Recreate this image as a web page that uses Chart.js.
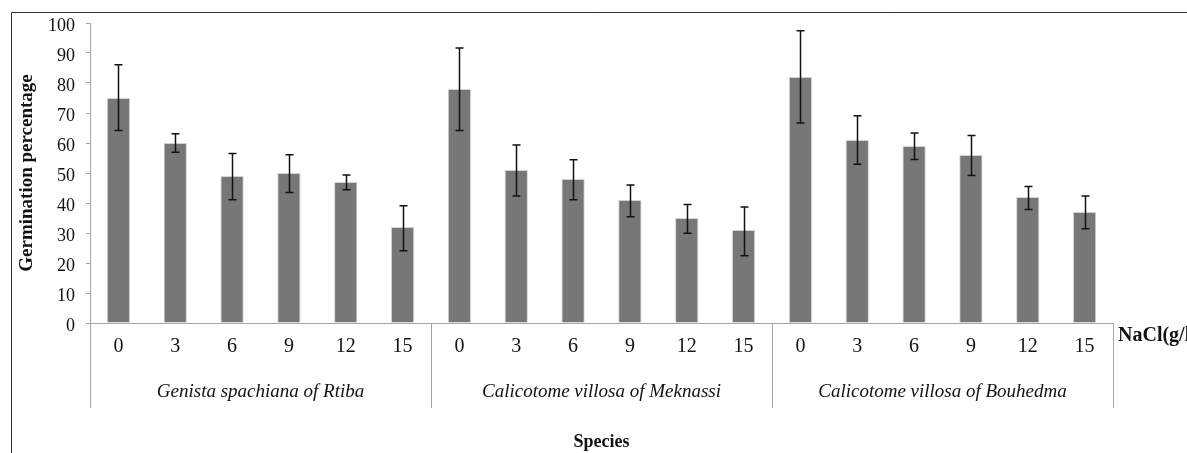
<!DOCTYPE html>
<html>
<head>
<meta charset="utf-8">
<script src="https://cdn.jsdelivr.net/npm/chart.js@4/dist/chart.umd.min.js"></script>
<style>
  html, body { margin: 0; padding: 0; background: #fff; }
  #wrap { width: 1187px; height: 453px; }
</style>
</head>
<body>
<div id="wrap"><canvas id="c" width="1187" height="453"></canvas></div>
<script>
const species = ["Genista spachiana of Rtiba", "Calicotome villosa of Meknassi", "Calicotome villosa of Bouhedma"];
const naclLevels = ["0", "3", "6", "9", "12", "15"];
const germination = [75, 60, 49, 50, 47, 32,  78, 51, 48, 41, 35, 31,  82, 61, 59, 56, 42, 37];
const errLow  = [64.2, 56.9, 41.1, 43.5, 44.4, 24.1,  64.2, 42.3, 41.1, 35.4, 29.9, 22.4,  66.7, 52.9, 54.5, 49.2, 37.8, 31.4];
const errHigh = [86.1, 63.1, 56.5, 56.1, 49.3, 39.1,  91.7, 59.3, 54.4, 46.0, 39.5, 38.7,  97.4, 69.1, 63.3, 62.5, 45.5, 42.3];
const yTitle = "Germination percentage";
const xTitle = "Species";
const unitLabel = "NaCl(g/l)";

const labels = [];
species.forEach(() => naclLevels.forEach(l => labels.push(l)));

const FONT = "'Liberation Serif', 'Times New Roman', serif";

const decor = {
  id: 'decor',
  beforeDraw(chart) {
    const ctx = chart.ctx;
    ctx.save();
    ctx.fillStyle = '#fff';
    ctx.fillRect(0, 0, chart.width, chart.height);
    ctx.strokeStyle = '#333';
    ctx.lineWidth = 1;
    ctx.beginPath();
    ctx.moveTo(11.5, chart.height);
    ctx.lineTo(11.5, 12.5);
    ctx.lineTo(chart.width, 12.5);
    ctx.stroke();
    ctx.restore();
  },
  afterDatasetsDraw(chart) {
    const ctx = chart.ctx;
    const ys = chart.scales.y;
    const meta = chart.getDatasetMeta(0);
    ctx.save();
    ctx.strokeStyle = '#111';
    ctx.lineWidth = 1.5;
    meta.data.forEach((bar, i) => {
      const x = Math.round(bar.x) + 0.5;
      const yh = ys.getPixelForValue(errHigh[i]);
      const yl = ys.getPixelForValue(errLow[i]);
      ctx.beginPath();
      ctx.moveTo(x, yh); ctx.lineTo(x, yl);
      ctx.moveTo(x - 4, yh); ctx.lineTo(x + 4, yh);
      ctx.moveTo(x - 4, yl); ctx.lineTo(x + 4, yl);
      ctx.stroke();
    });
    ctx.restore();
  },
  afterDraw(chart) {
    const ctx = chart.ctx;
    const xs = chart.scales.x;
    const area = chart.chartArea;
    const n = naclLevels.length;
    ctx.save();
    ctx.strokeStyle = '#a6a6a6';
    ctx.lineWidth = 1;
    for (let g = 0; g <= species.length; g++) {
      const px = Math.round(xs.getPixelForValue(g * n - 0.5)) + 0.5;
      ctx.beginPath();
      ctx.moveTo(px, area.bottom);
      ctx.lineTo(px, 408);
      ctx.stroke();
    }
    ctx.fillStyle = '#111';
    ctx.textAlign = 'center';
    ctx.textBaseline = 'middle';
    ctx.font = "italic 19px " + FONT;
    species.forEach((s, g) => {
      ctx.fillText(s, xs.getPixelForValue(g * n + (n - 1) / 2), 392);
    });
    ctx.font = "bold 18px " + FONT;
    ctx.fillText(xTitle, (area.left + area.right) / 2, 442);
    ctx.textAlign = 'left';
    ctx.font = "bold 20px " + FONT;
    ctx.fillText(unitLabel, 1118, 336);
    ctx.restore();
  }
};

new Chart(document.getElementById('c'), {
  type: 'bar',
  data: {
    labels: labels,
    datasets: [{
      data: germination,
      backgroundColor: '#777777',
      borderColor: '#d4d4d4',
      borderWidth: 1,
      barPercentage: 0.41,
      categoryPercentage: 1.0
    }]
  },
  options: {
    responsive: false,
    animation: false,
    devicePixelRatio: 1,
    layout: { padding: { left: 0, right: 74, top: 23, bottom: 0 } },
    plugins: { legend: { display: false }, tooltip: { enabled: false } },
    scales: {
      x: {
        type: 'category',
        grid: { display: false },
        border: { display: true, color: '#a6a6a6', width: 1 },
        ticks: { color: '#111', font: { family: FONT, size: 20 }, padding: 4, maxRotation: 0, autoSkip: false },
        afterFit(scale) { scale.height = 130; }
      },
      y: {
        min: 0, max: 100,
        ticks: { stepSize: 10, color: '#111', font: { family: FONT, size: 18 }, padding: 11, labelOffset: 3 },
        grid: { display: true, drawOnChartArea: false, tickLength: 4, color: '#a6a6a6' },
        border: { display: true, color: '#a6a6a6', width: 1 },
        title: { display: true, text: yTitle, color: '#111', font: { family: FONT, size: 19, weight: 'bold' }, padding: { top: 16, bottom: 0 } },
        afterFit(scale) { scale.width = 90; }
      }
    }
  },
  plugins: [decor]
});
</script>
</body>
</html>
